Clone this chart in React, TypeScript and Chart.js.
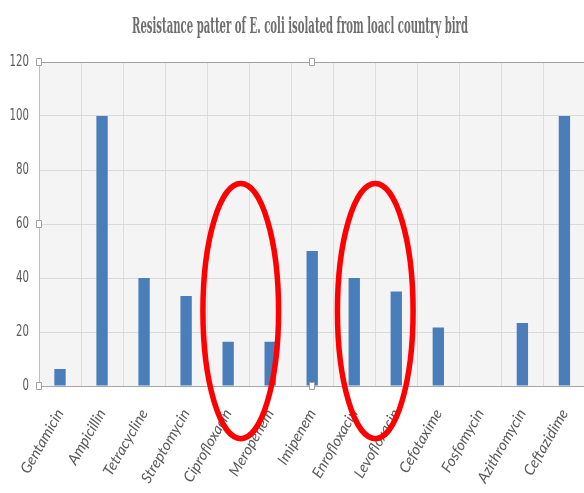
import React, { useEffect, useRef } from "react";
import { Chart, registerables } from "chart.js";

Chart.register(...registerables);

const TITLE = "Resistance patter of E. coli isolated from loacl country bird";
const categories = [
  "Gentamicin", "Ampicillin", "Tetracycline", "Streptomycin", "Ciprofloxacin",
  "Meropenem", "Imipenem", "Enrofloxacin", "Levofloxacin", "Cefotaxime",
  "Fosfomycin", "Azithromycin", "Ceftazidime",
];
const resistance = [6.3, 100, 40, 33.3, 16.4, 16.4, 50, 40, 35, 21.7, 0, 23.3, 100];
const yTicks = [0, 20, 40, 60, 80, 100, 120];
// highlighted groups: [center index, half-width in categories, top value, bottom value]
const highlights = [
  [4.3, 0.9, 75, -19.5],
  [7.5, 0.9, 75, -19.5],
];

const drawPlugin = {
  id: "drawPlugin",
  beforeDraw(chart: any) {
    const { ctx, chartArea } = chart;
    ctx.save();
    ctx.fillStyle = "#f4f4f4";
    ctx.fillRect(chartArea.left, chartArea.top, chartArea.right - chartArea.left, chartArea.bottom - chartArea.top);
    ctx.restore();
  },
  afterDraw(chart: any) {
    const { ctx, chartArea } = chart;
    const xs = chart.scales.x;
    const ys = chart.scales.y;

    // title (condensed)
    ctx.save();
    ctx.font = "bold 22px 'DejaVu Serif', serif";
    ctx.fillStyle = "#6e6e6e";
    ctx.textBaseline = "alphabetic";
    ctx.textAlign = "center";
    const w = ctx.measureText(TITLE).width;
    const sx = 336 / w;
    ctx.translate(300, 33);
    ctx.scale(sx, 1);
    ctx.fillText(TITLE, 0, 0);
    ctx.restore();

    // y tick labels (condensed)
    ctx.save();
    ctx.font = "15px 'DejaVu Sans', sans-serif";
    ctx.fillStyle = "#595959";
    ctx.textAlign = "right";
    ctx.textBaseline = "middle";
    for (const t of ys.ticks) {
      const y = ys.getPixelForValue(t.value);
      ctx.save();
      ctx.translate(29, y);
      ctx.scale(0.68, 1);
      ctx.fillText(String(t.value), 0, 0);
      ctx.restore();
    }
    ctx.restore();

    // selection handles
    ctx.save();
    ctx.fillStyle = "#ffffff";
    ctx.strokeStyle = "#a0a0a0";
    ctx.lineWidth = 1;
    const midX = xs.getPixelForValue(6);
    const handles = [
      [chartArea.left, ys.getPixelForValue(120)],
      [chartArea.left, ys.getPixelForValue(60)],
      [chartArea.left, ys.getPixelForValue(0)],
      [midX, ys.getPixelForValue(120)],
      [midX, ys.getPixelForValue(0)],
    ];
    for (const [hx, hy] of handles) {
      ctx.beginPath();
      ctx.rect(Math.round(hx) - 2.5, Math.round(hy) - 3.5, 5, 7);
      ctx.fill();
      ctx.stroke();
    }
    ctx.restore();

    // red ellipses
    const step = xs.getPixelForValue(1) - xs.getPixelForValue(0);
    ctx.save();
    ctx.strokeStyle = "#ff0000";
    ctx.lineWidth = 5.5;
    for (const [c, hw, top, bottom] of highlights) {
      const cx = xs.getPixelForValue(c);
      const rx = hw * step;
      const yt = ys.getPixelForValue(top);
      const yb = ys.getPixelForValue(bottom);
      ctx.beginPath();
      ctx.ellipse(cx, (yt + yb) / 2, rx, (yb - yt) / 2, 0, 0, Math.PI * 2);
      ctx.stroke();
    }
    ctx.restore();
  },
};

export default function App() {
  const ref = useRef<HTMLCanvasElement | null>(null);
  useEffect(() => {
    if (!ref.current) return;
    const chart = new Chart(ref.current, {
      type: "bar",
      data: {
        labels: categories,
        datasets: [
          {
            data: resistance,
            backgroundColor: "#4a7ebb",
            barPercentage: 0.27,
            categoryPercentage: 1,
          },
        ],
      },
      options: {
        animation: false,
        responsive: false,
        maintainAspectRatio: false,
        layout: { padding: { left: 0, right: 0, top: 62, bottom: 0 } },
        plugins: {
          legend: { display: false },
          tooltip: { enabled: false },
          title: { display: false },
        },
        scales: {
          x: {
            grid: { color: "#dcdcdc", drawTicks: false, offset: true },
            border: { color: "#a6a6a6", width: 1 },
            ticks: {
              color: "#595959",
              font: { family: "Lato, 'Open Sans', sans-serif", size: 15, style: "italic" },
              maxRotation: 60,
              minRotation: 60,
              padding: 20,
              autoSkip: false,
            },
            afterFit(scale: any) {
              scale.height = 107;
            },
          },
          y: {
            min: 0,
            max: 120,
            afterBuildTicks(scale: any) {
              scale.ticks = yTicks.map((v) => ({ value: v }));
            },
            grid: {
              color: (c: any) => (c.tick && c.tick.value === 120 ? "#a0a0a0" : "#d9d9d9"),
              drawTicks: false,
            },
            border: { color: "#bfbfbf", width: 1 },
            ticks: { display: false },
            afterFit(scale: any) {
              scale.width = 39;
            },
          },
        },
      },
      plugins: [drawPlugin],
    });
    return () => chart.destroy();
  }, []);
  return (
    <div style={{ position: "fixed", left: 0, top: 0, width: 584, height: 493, overflow: "hidden", background: "#fff" }}>
      <canvas ref={ref} width={600} height={493} style={{ display: "block", width: 600, height: 493 }} />
    </div>
  );
}
